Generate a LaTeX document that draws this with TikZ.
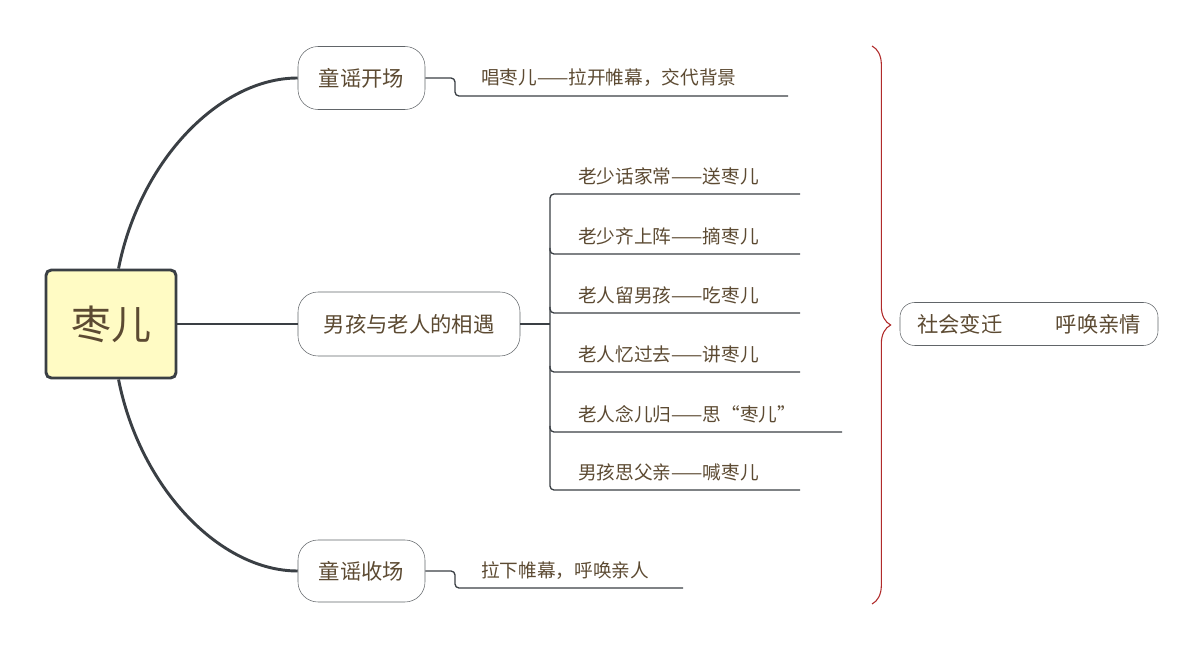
\documentclass[tikz,border=0pt]{standalone}
\usepackage{fontspec}
\setmainfont{Noto Sans CJK SC}
\usetikzlibrary{decorations.pathreplacing}
\definecolor{txt}{HTML}{5C4A32}
\definecolor{edge}{HTML}{3A3F44}
\definecolor{rootfill}{HTML}{FFFBC4}
\definecolor{bracered}{HTML}{B02A2A}
\tikzset{
  topic/.style={draw=edge!80, rounded corners=15pt, text=txt, font=\fontsize{16}{18}\selectfont, inner sep=0pt},
  leaf/.style={text=txt, font=\fontsize{14}{16}\selectfont, anchor=west, inner sep=0pt},
  main/.style={edge, line width=2.2pt},
  thin/.style={edge, line width=1pt, rounded corners=3pt}
}
\begin{document}
\begin{tikzpicture}[x=0.75pt,y=-0.75pt]
  \useasboundingbox (0,0) rectangle (1203,648);
  % ROOT
  \node[draw=edge, line width=2.2pt, fill=rootfill, rounded corners=4pt, minimum width=130*0.75pt, minimum height=108*0.75pt, text=txt, font=\fontsize{30}{34}\selectfont] (root) at (111,324) {枣儿};

  % TOPICS
  \node[topic, minimum width=127*0.75pt, minimum height=63*0.75pt] (open) at (361.5,78) {童谣开场};
  \node[topic, minimum width=222*0.75pt, minimum height=64*0.75pt] (meet) at (409,324) {男孩与老人的相遇};
  \node[topic, minimum width=127*0.75pt, minimum height=62*0.75pt] (close) at (361.5,571) {童谣收场};
  \node[topic, minimum width=258*0.75pt, minimum height=43*0.75pt, rounded corners=11pt] (theme) at (1029,324) {社会变迁\hspace{2.5em}呼唤亲情};

  % MAIN BRANCHES
  \draw[main] (root.north west) ++(74,0) coordinate (rt) .. controls (140,160) and (220,78) .. (open.west);
  \draw[main] (root.east) -- (meet.west);
  \draw[main] (root.south west) ++(74,0) coordinate (rb) .. controls (140,488) and (220,571) .. (close.west);

  % LEAVES OF open / close
  \node[leaf] (l0) at (481,78) {唱枣儿——拉开帷幕，交代背景};
  \coordinate (e0) at (788,96);
  \draw[thin] (open.east) -| (455,96) -- (e0);
  \node[leaf] (l9) at (481,571) {拉下帷幕，呼唤亲人};
  \coordinate (e9) at (683,588);
  \draw[thin] (close.east) -| (455,588) -- (e9);

  % LEAVES OF meet
  \coordinate (fork) at (550,324);
  \draw[thin] (meet.east) -- (fork);
  \foreach \i/\y/\t/\e in {1/194/老少话家常——送枣儿/800, 2/254/老少齐上阵——摘枣儿/800, 3/313/老人留男孩——吃枣儿/800, 4/372/老人忆过去——讲枣儿/800, 5/432/老人念儿归——思“枣儿”/842, 6/490/男孩思父亲——喊枣儿/800}{
    \node[leaf] (m\i) at (578,\y-18) {\t};
    \coordinate (me\i) at (\e,\y);
  }
  \draw[thin] (me1) -- (550,194) -- (550,490) -- (me6);
  \foreach \i/\y in {2/254,3/313,4/372,5/432}{
    \draw[thin] (550,\y-6) |- (me\i);
  }

  % BRACE
  \draw[bracered, line width=0.8pt, decorate, decoration={brace, amplitude=14pt}] (872,46) -- (872,604);
\end{tikzpicture}
\end{document}
